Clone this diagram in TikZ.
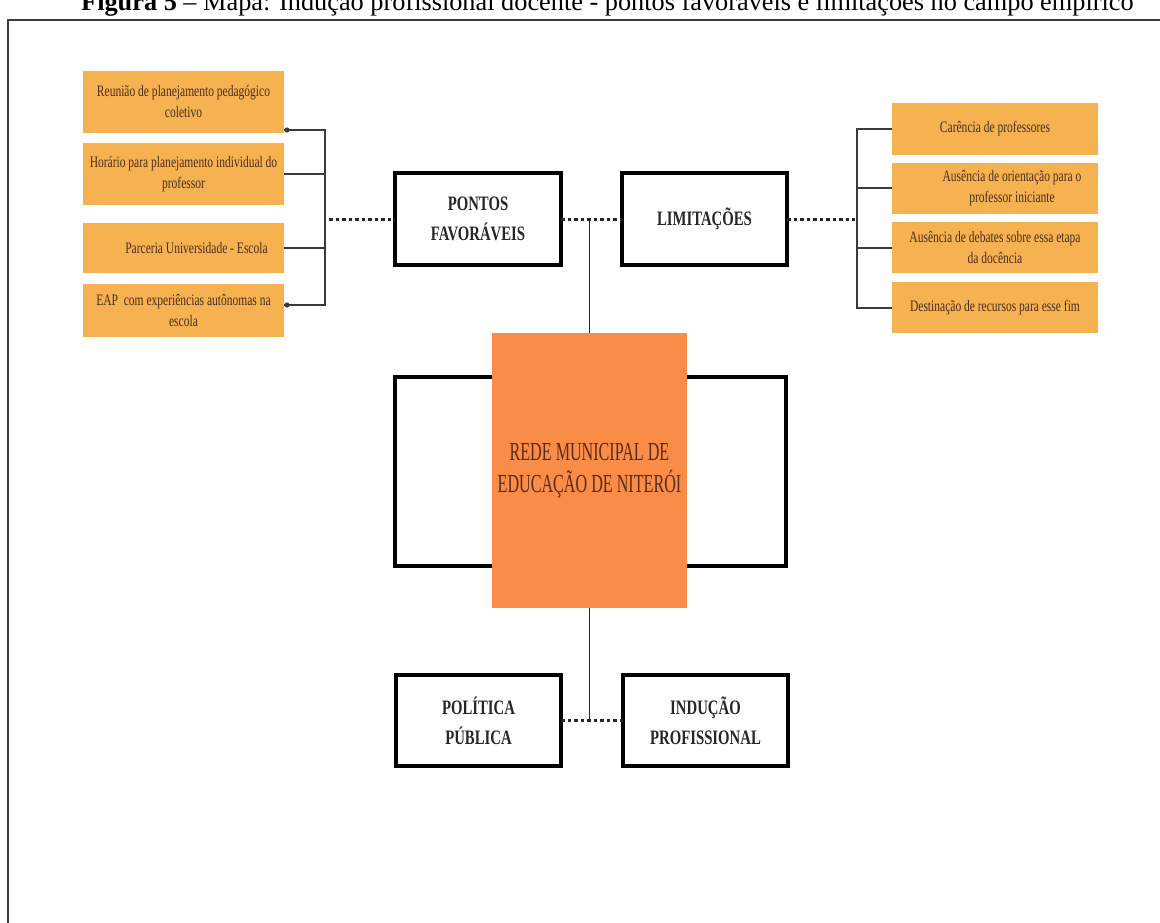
\documentclass[tikz,border=0pt]{standalone}
\usepackage{fontspec}
\setmainfont{Liberation Serif}
\newfontfamily\cond[FakeStretch=0.72]{Liberation Serif}
\newfontfamily\condx[FakeStretch=0.62]{Liberation Serif}
\definecolor{lightor}{HTML}{F6B251}
\definecolor{deepor}{HTML}{F98D48}
\definecolor{txtbr}{HTML}{4A2E1C}
\definecolor{ctrbr}{HTML}{5C2A14}
\definecolor{frm}{HTML}{3A3A3A}
\tikzset{
  smallbox/.style={fill=lightor, inner sep=0pt, outer sep=0pt, align=center,
    text=txtbr, font=\cond\fontsize{16}{21}\selectfont},
  bigbox/.style={draw=black, line width=4pt, fill=white, inner sep=0pt, outer sep=0pt,
    minimum width=166pt, minimum height=92pt, align=center,
    font=\cond\bfseries\fontsize{20.5}{30}\selectfont, text=black!85},
  brk/.style={draw=frm, line width=2pt},
  dots/.style={draw=black!85, line width=3pt, dash pattern=on 3.5pt off 3pt},
  thin/.style={draw=black!85, line width=1.5pt},
}
\begin{document}
\begin{tikzpicture}[x=1pt,y=-1pt]
\clip (0,0) rectangle (1160,923);
\useasboundingbox (0,0) rectangle (1160,923);
\fill[white] (0,0) rectangle (1160,923);
% title (cut off at the top)
\node[anchor=base west, inner sep=0pt, font=\fontsize{26.3}{30}\selectfont] (title) at (81,11)
  {\textbf{Figura 5} – Mapa: Indução profissional docente - pontos favoráveis e limitações no campo empírico};
% outer frame
\draw[draw=frm, line width=2.5pt] (8,930) -- (8,20) -- (1170,20);

% left orange boxes
\node[smallbox, minimum width=201pt, minimum height=62pt] (L1) at (183.5,102) {Reunião de planejamento pedagógico\\coletivo};
\node[smallbox, minimum width=201pt, minimum height=62pt] (L2) at (183.5,174) {Horário para planejamento individual do\\professor};
\node[smallbox, minimum width=201pt, minimum height=50pt] (L3) at (183.5,248) {\hspace*{26pt}Parceria Universidade - Escola};
\node[smallbox, minimum width=201pt, minimum height=53pt] (L4) at (183.5,310.5) {EAP\ \ com experiências autônomas na\\escola};

% right orange boxes
\node[smallbox, minimum width=206pt, minimum height=52pt] (R1) at (995,129) {Carência de professores};
\node[smallbox, minimum width=206pt, minimum height=51pt] (R2) at (995,188.5) {\hspace*{34pt}Ausência de orientação para o\\\hspace*{34pt}professor iniciante};
\node[smallbox, minimum width=206pt, minimum height=51pt] (R3) at (995,247.5) {Ausência de debates sobre essa etapa\\da docência};
\node[smallbox, minimum width=206pt, minimum height=51pt] (R4) at (995,307.5) {Destinação de recursos para esse fim};

% main boxes
\node[bigbox] (PF) at (478,219) {PONTOS\\FAVORÁVEIS};
\node[bigbox, minimum width=165pt] (LI) at (704.5,219) {LIMITAÇÕES};
\node[bigbox, minimum width=165pt, minimum height=91pt] (PP) at (478.5,720.5) {POLÍTICA\\PÚBLICA};
\node[bigbox, minimum width=165pt, minimum height=91pt] (IP) at (705.5,720.5) {INDUÇÃO\\PROFISSIONAL};

% frame behind the centre box
\node[draw=black, line width=4pt, inner sep=0pt, outer sep=0pt, minimum width=391pt, minimum height=189pt] (back) at (590.5,471.5) {};
\node[fill=deepor, inner sep=0pt, outer sep=0pt, minimum width=195pt, minimum height=275pt,
  align=center, text=ctrbr, font=\condx\fontsize{26}{32}\selectfont] (C) at (589.5,470.5)
  {\raisebox{-3pt}{\begin{tabular}{@{}c@{}}REDE MUNICIPAL DE\\EDUCAÇÃO DE NITERÓI\end{tabular}}};

% left bracket
\coordinate (blT) at (325,130);
\coordinate (blB) at (325,305);
\coordinate (blM) at (325,219);
\draw[brk] ([yshift=3pt]L1.south east) -- (blT) -- (blB) -- (L4.east |- blB);
\draw[brk] (L2.east) -- (L2.east -| blT);
\draw[brk] (L3.east) -- (L3.east -| blT);
\fill[frm] ([yshift=3pt, xshift=3pt]L1.south east) circle (2.6pt);
\fill[frm] ([xshift=3pt]L4.east |- blB) circle (2.6pt);
\draw[dots] ([xshift=4pt]blM) -- (PF.west);

% right bracket
\coordinate (brT) at (857,129);
\coordinate (brB) at (857,307.5);
\coordinate (brM) at (857,219);
\draw[brk] (R1.west) -- (brT) -- (brB) -- (R4.west);
\draw[brk] (R2.west) -- (R2.west -| brT);
\draw[brk] (R3.west) -- (R3.west -| brT);
\draw[dots] (LI.east) -- ([xshift=-2pt]brM);

% centre connections
\draw[dots] (PF.east) -- (LI.west);
\draw[thin] (C.north) -- (C.north |- PF.east);
\draw[dots] (PP.east) -- (IP.west);
\draw[thin] (C.south) -- (C.south |- PP.east);
\end{tikzpicture}
\end{document}
